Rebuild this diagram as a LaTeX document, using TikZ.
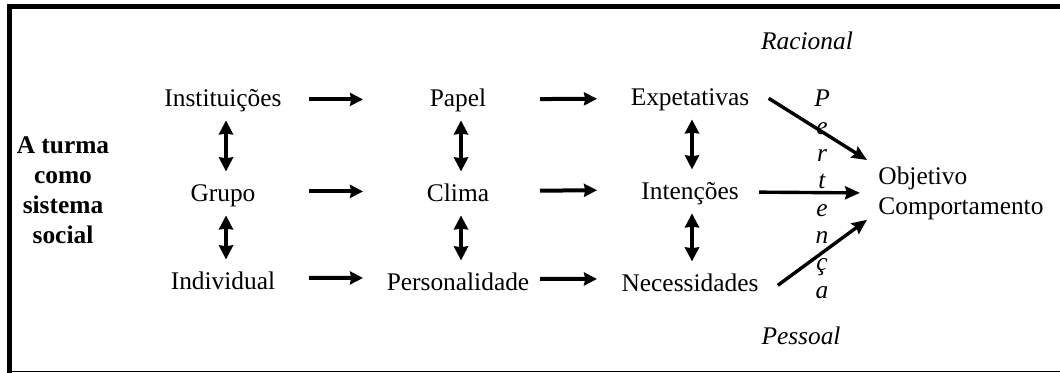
\documentclass[tikz,border=0pt]{standalone}
\usepackage{fontspec}
\setmainfont{Liberation Serif}
\usetikzlibrary{arrows.meta}

\begin{document}
\begin{tikzpicture}[x=0.5pt, y=-0.5pt,
        every node/.style={inner sep=0pt, font=\fontsize{12.7}{15}\selectfont},
        lbl/.style={anchor=base},
        slant/.style={anchor=base, font=\fontsize{12.7}{15}\selectfont\itshape},
        side/.style={anchor=north, align=center, font=\fontsize{12.7}{15}\selectfont\bfseries},
        harrA/.style={line width=2pt, -{Stealth[length=6.5pt, width=6.5pt, inset=0.6pt]}, shorten <=43pt, shorten >=47.5pt},
        harrB/.style={line width=2pt, -{Stealth[length=6.5pt, width=6.5pt, inset=0.6pt]}, shorten <=41pt, shorten >=46.5pt},
        vdbl/.style={line width=1.7pt, {Stealth[length=7pt, width=7pt, inset=0.4pt]}-{Stealth[length=7pt, width=7pt, inset=0.4pt]}, shorten <=9pt, shorten >=13pt},
        darr/.style={line width=1.7pt, -{Stealth[length=7.5pt, width=6.5pt, inset=1pt]}}]
        \useasboundingbox (0,0) rectangle (1060,373);
        \draw[line width=2.5pt] (9.5,373) -- (9.5,6.5) -- (1060,6.5);
        \draw[line width=0.6pt] (7,371.5) -- (1060,371.5);
        \node[side] (turma) at (63,136) {A turma\\como\\sistema\\social};
        \node[lbl] (inst) at (223,107) {Instituições};
        \node[lbl] (papel) at (458,107) {Papel};
        \node[lbl] (expet) at (690,106) {Expetativas};
        \node[lbl] (grupo) at (223,202) {Grupo};
        \node[lbl] (clima) at (458,202) {Clima};
        \node[lbl] (inten) at (690,200) {Intenções};
        \node[lbl] (indiv) at (223,290) {Individual};
        \node[lbl] (perso) at (458,291) {Personalidade};
        \node[lbl] (neces) at (690,292) {Necessidades};
        \node[anchor=north west, align=left] (obj) at (878,166) {Objetivo\\Comportamento};
        \node[slant] (rac) at (807,50) {Racional};
        \node[slant] (pess) at (801,345) {Pessoal};
        \foreach \l [count=\i] in {P,e,r,t,e,n,ç,a}
            \node[slant] (pert\i) at (822,79.7+27.3*\i) {\l};
        \draw[harrA] ([yshift=1.5pt]inst.mid) -- ([yshift=1.5pt]papel.mid);
        \draw[harrB] ([yshift=1.5pt]papel.mid) -- ([yshift=1.5pt]expet.mid);
        \draw[harrA] ([yshift=3pt]grupo.mid) -- ([yshift=3pt]clima.mid);
        \draw[harrB] ([yshift=3pt]clima.mid) -- ([yshift=3pt]inten.mid);
        \draw[harrA] ([yshift=4pt]indiv.mid) -- ([yshift=4pt]perso.mid);
        \draw[harrB] ([yshift=4pt]perso.mid) -- ([yshift=4pt]neces.mid);
        \draw[vdbl] ([xshift=1.5pt]inst.mid) -- ([xshift=1.5pt]grupo.mid);
        \draw[vdbl] ([xshift=1.5pt]grupo.mid) -- ([xshift=1.5pt]indiv.mid);
        \draw[vdbl] ([xshift=1.5pt]papel.mid) -- ([xshift=1.5pt]clima.mid);
        \draw[vdbl] ([xshift=1.5pt]clima.mid) -- ([xshift=1.5pt]perso.mid);
        \draw[vdbl] ([xshift=1pt]expet.mid) -- ([xshift=1pt]inten.mid);
        \draw[vdbl] ([xshift=1pt]inten.mid) -- ([xshift=1pt]neces.mid);
        \draw[darr] ([xshift=9.5pt, yshift=1pt]expet.east) -- ([xshift=-5.5pt, yshift=3pt]obj.north west);
        \draw[darr] ([xshift=10pt, yshift=1pt]inten.east) -- ([xshift=-9pt]obj.west);
        \draw[darr] ([xshift=9.5pt, yshift=-1pt]neces.east) -- ([xshift=-5.5pt]obj.south west);
\end{tikzpicture}
\end{document}
